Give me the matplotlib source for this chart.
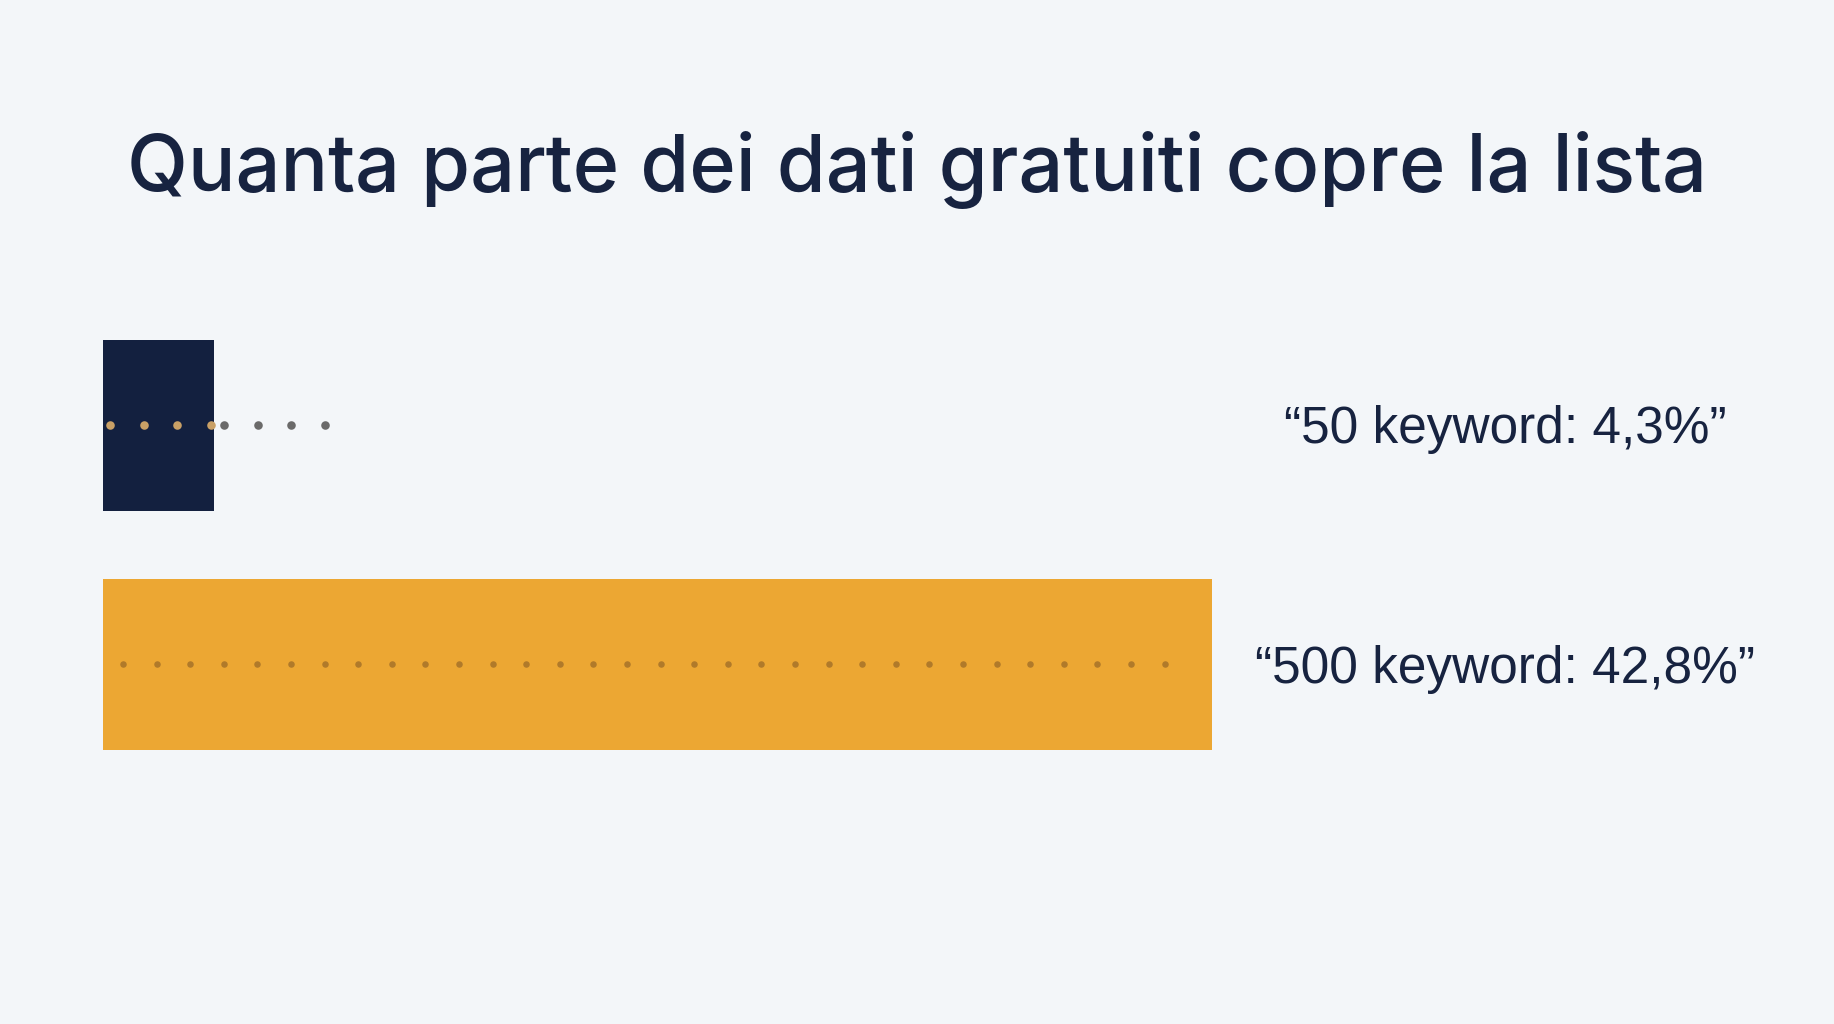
import matplotlib
matplotlib.use("Agg")
import matplotlib.pyplot as plt
import numpy as np

# ---- data ----
categories = ["50 keyword", "500 keyword"]
values = [4.3, 42.8]
labels = ["\u201c50 keyword: 4,3%\u201d", "\u201c500 keyword: 42,8%\u201d"]
title = "Quanta parte dei dati gratuiti copre la lista"

# ---- style ----
BG = "#f3f6f9"
NAVY = "#13203f"
ORANGE = "#eca733"
TITLE_C = "#172340"
bar_colors = [NAVY, ORANGE]

W, H = 1834, 1024
fig = plt.figure(figsize=(W / 100, H / 100), dpi=100, facecolor=BG)
ax = fig.add_axes([0, 0, 1, 1])
ax.set_facecolor(BG)

px_per_pct = (1212 - 103) / values[1]
x0 = 103
ax.set_xlim(-x0 / px_per_pct, (W - x0) / px_per_pct)
row_gap = 239.0
ax.set_ylim(1 + (H - 664) / row_gap, 0 - 425 / row_gap)
ax.axis("off")

ypos = np.arange(len(categories))
ax.barh(ypos, values, height=171 / row_gap, color=bar_colors, left=0, zorder=1)

# decorative dotted guides
spacing = 33.6 / px_per_pct
d0_in = np.arange(7 / px_per_pct, values[0], spacing)
d0_out = np.arange(values[0] + 0.37, 9.0, spacing)
ax.scatter(d0_in, np.full(len(d0_in), ypos[0]), s=38, c="#c9a066",
           zorder=3, linewidths=0)
ax.scatter(d0_out, np.full(len(d0_out), ypos[0]), s=38, c="#6a6a6a",
           zorder=3, linewidths=0)
d1 = np.arange(20 / px_per_pct, values[1] - 0.9, spacing)
ax.scatter(d1, np.full(len(d1), ypos[1]), s=22, c="#b07a2a", marker="o",
           zorder=3, linewidths=0)

fig.text(0.5, 1 - 191 / H, title, ha="center", va="baseline",
         fontsize=57, fontweight="medium", color=TITLE_C,
         family=["Inter", "DejaVu Sans"])

label_y = [443, 683]
for lab, yb in zip(labels, label_y):
    fig.text(1505 / W, 1 - yb / H, lab, ha="center", va="baseline",
             fontsize=37, color=TITLE_C,
             family=["Liberation Sans", "DejaVu Sans"])

fig.savefig("out.png", dpi=100, facecolor=BG)
